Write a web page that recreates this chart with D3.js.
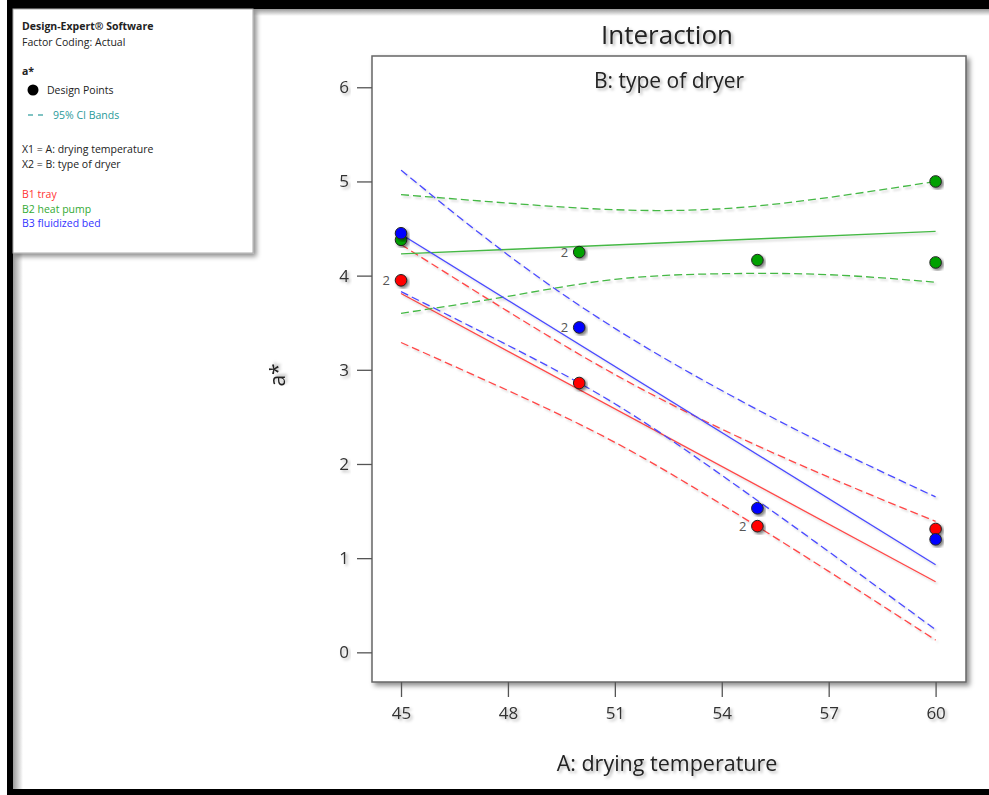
<!DOCTYPE html>
<html>
<head>
<meta charset="utf-8">
<script src="https://cdn.jsdelivr.net/npm/d3@7"></script>
<style>
  body { margin: 0; background: #fff; }
  svg { display: block; font-family: "Open Sans", "Noto Sans", sans-serif; }
</style>
</head>
<body>
<div class="chart-wrapper"></div>
<script>
// axis ticks
const xTicks = [45, 48, 51, 54, 57, 60];
const yTicks = [0, 1, 2, 3, 4, 5, 6];

// fitted lines (end points)
const fitX = [45, 60];
const trayFit = [3.81, 0.75];
const heatFit = [4.23, 4.47];
const bedFit = [4.44, 0.93];

// 95% CI bands read at the x ticks
const bandX = [45, 48, 51, 54, 57, 60];
const trayHi = [4.33, 3.62, 2.95, 2.37, 1.86, 1.39];
const trayLo = [3.29, 2.78, 2.23, 1.57, 0.86, 0.13];
const heatHi = [4.86, 4.77, 4.70, 4.71, 4.83, 5.00];
const heatLo = [3.60, 3.78, 3.96, 4.02, 4.01, 3.93];
const bedHi = [5.12, 4.22, 3.44, 2.78, 2.19, 1.65];
const bedLo = [3.83, 3.26, 2.64, 1.88, 1.07, 0.24];

// design points
const trayX = [45, 50, 55, 60];
const trayY = [3.95, 2.86, 1.34, 1.31];
const trayN = [2, 1, 2, 1];
const heatX = [45, 50, 55, 60, 60];
const heatY = [4.38, 4.25, 4.165, 5.0, 4.14];
const heatN = [1, 2, 1, 1, 1];
const bedX = [45, 50, 55, 60];
const bedY = [4.45, 3.45, 1.53, 1.2];
const bedN = [1, 2, 1, 1];

const series = [
    { name: "B1 tray", fit: trayFit, hi: trayHi, lo: trayLo, px: trayX, py: trayY, pn: trayN,
      line: "#ff4747", dot: "#ff0000", text: "#ff3333" },
    { name: "B2 heat pump", fit: heatFit, hi: heatHi, lo: heatLo, px: heatX, py: heatY, pn: heatN,
      line: "#45b845", dot: "#00a000", text: "#33aa33" },
    { name: "B3 fluidized bed", fit: bedFit, hi: bedHi, lo: bedLo, px: bedX, py: bedY, pn: bedN,
      line: "#4a4aff", dot: "#0000ff", text: "#3333ff" }
];

const W = 989, H = 795;
const frame = { left: 372, right: 966, top: 56, bottom: 682 };

const svg = d3.select(".chart-wrapper")
    .append("svg")
    .attr("width", W)
    .attr("height", H);

// filters for the soft shadows
const defs = svg.append("defs");
function shadow(id, dx, dy, sd, op) {
    defs.append("filter").attr("id", id)
        .attr("x", "-20%").attr("y", "-20%").attr("width", "140%").attr("height", "140%")
        .append("feDropShadow")
        .attr("dx", dx).attr("dy", dy).attr("stdDeviation", sd)
        .attr("flood-color", "#000").attr("flood-opacity", op);
}
shadow("sh-box", 3, 3, 2.5, 0.45);
shadow("sh-dot", 2, 2, 1.5, 0.5);
shadow("sh-line", 2, 2, 1.2, 0.18);
shadow("sh-text", 2, 2, 1.5, 0.3);

const gradTop = defs.append("linearGradient").attr("id", "g-top")
    .attr("x1", 0).attr("y1", 0).attr("x2", 0).attr("y2", 1);
gradTop.append("stop").attr("offset", 0).attr("stop-color", "#999");
gradTop.append("stop").attr("offset", 1).attr("stop-color", "#fff");
const gradLeft = defs.append("linearGradient").attr("id", "g-left")
    .attr("x1", 0).attr("y1", 0).attr("x2", 1).attr("y2", 0);
gradLeft.append("stop").attr("offset", 0).attr("stop-color", "#999");
gradLeft.append("stop").attr("offset", 1).attr("stop-color", "#fff");

// window border
svg.append("rect").attr("x", 0).attr("y", 0).attr("width", W).attr("height", H).attr("fill", "#fff");
svg.append("rect").attr("x", 13).attr("y", 9).attr("width", W - 13).attr("height", 7).attr("fill", "url(#g-top)");
svg.append("rect").attr("x", 13).attr("y", 9).attr("width", 10).attr("height", H - 15).attr("fill", "url(#g-left)");
svg.append("rect").attr("x", 7).attr("y", 0).attr("width", W - 7).attr("height", 9).attr("fill", "#000");
svg.append("rect").attr("x", 7).attr("y", 0).attr("width", 6).attr("height", H).attr("fill", "#000");
svg.append("rect").attr("x", 7).attr("y", 789).attr("width", W - 7).attr("height", 6).attr("fill", "#000");

// legend panel
svg.append("rect")
    .attr("x", 13).attr("y", 9).attr("width", 240).attr("height", 244)
    .attr("fill", "#fff").attr("stroke", "#aaa").attr("stroke-width", 1)
    .attr("filter", "url(#sh-box)");

const legend = svg.append("g").style("font-size", "10.5px").attr("fill", "#222");
legend.append("text").attr("x", 22).attr("y", 30).style("font-weight", "bold").text("Design-Expert® Software");
legend.append("text").attr("x", 22).attr("y", 45.5).text("Factor Coding: Actual");
legend.append("text").attr("x", 22).attr("y", 74.5).style("font-weight", "bold").text("a*");
legend.append("circle").attr("cx", 33).attr("cy", 90).attr("r", 5.5).attr("fill", "#000");
legend.append("text").attr("x", 47).attr("y", 94).text("Design Points");
legend.append("line").attr("x1", 28).attr("x2", 33).attr("y1", 115).attr("y2", 115)
    .attr("stroke", "#2a9a9a").attr("stroke-width", 1.2);
legend.append("line").attr("x1", 38).attr("x2", 43).attr("y1", 115).attr("y2", 115)
    .attr("stroke", "#2a9a9a").attr("stroke-width", 1.2);
legend.append("text").attr("x", 53).attr("y", 119).attr("fill", "#2a9a9a").text("95% CI Bands");
legend.append("text").attr("x", 22).attr("y", 153).text("X1 = A: drying temperature");
legend.append("text").attr("x", 22).attr("y", 168).text("X2 = B: type of dryer");
legend.selectAll(".leg-series")
    .data(series)
    .enter()
    .append("text")
    .attr("x", 22)
    .attr("y", (d, i) => 198 + i * 14.5)
    .attr("fill", d => d.text)
    .text(d => d.name);

// scales
const xScale = d3.scaleLinear().domain([44.186, 60.853]).range([frame.left, frame.right]);
const yScale = d3.scaleLinear().domain([-0.315, 6.332]).range([frame.bottom, frame.top]);

// plot frame
svg.append("rect")
    .attr("x", frame.left).attr("y", frame.top)
    .attr("width", frame.right - frame.left).attr("height", frame.bottom - frame.top)
    .attr("fill", "#fff").attr("stroke", "#666").attr("stroke-width", 1.5)
    .attr("filter", "url(#sh-box)");

// axes
const xAxis = d3.axisBottom(xScale).tickValues(xTicks).tickSize(15).tickPadding(10).tickSizeOuter(0);
const yAxis = d3.axisLeft(yScale).tickValues(yTicks).tickFormat(d3.format("d"))
    .tickSize(15).tickPadding(8).tickSizeOuter(0);

const gx = svg.append("g").attr("transform", `translate(0,${frame.bottom})`).call(xAxis);
const gy = svg.append("g").attr("transform", `translate(${frame.left},0)`).call(yAxis);
[gx, gy].forEach(g => {
    g.select(".domain").remove();
    g.selectAll(".tick line").attr("stroke", "#555").attr("stroke-width", 1.3);
    g.selectAll(".tick text")
        .attr("fill", "#333")
        .style("font-size", "17px")
        .style("font-family", "'Open Sans', sans-serif")
        .attr("filter", "url(#sh-text)");
});
gx.selectAll(".tick text").attr("dy", "0.71em");

// titles
svg.append("text")
    .attr("x", (frame.left + frame.right) / 2 - 2).attr("y", 44)
    .attr("text-anchor", "middle").style("font-size", "26px").attr("fill", "#222")
    .attr("filter", "url(#sh-text)")
    .text("Interaction");
svg.append("text")
    .attr("x", (frame.left + frame.right) / 2).attr("y", 88)
    .attr("text-anchor", "middle").style("font-size", "21px").attr("fill", "#222")
    .attr("filter", "url(#sh-text)")
    .text("B: type of dryer");
svg.append("text")
    .attr("x", (frame.left + frame.right) / 2 - 2).attr("y", 771)
    .attr("text-anchor", "middle").style("font-size", "21.5px").attr("fill", "#222")
    .attr("filter", "url(#sh-text)")
    .text("A: drying temperature");
svg.append("text")
    .attr("transform", `translate(285,${(frame.top + frame.bottom) / 2 + 6}) rotate(-90)`)
    .attr("text-anchor", "middle").style("font-size", "21px").attr("fill", "#222")
    .attr("filter", "url(#sh-text)")
    .text("a*");

// lines
const plot = svg.append("g");
const fitLine = d3.line().x((d, i) => xScale(fitX[i])).y(d => yScale(d));
const bandLine = d3.line().x((d, i) => xScale(bandX[i])).y(d => yScale(d)).curve(d3.curveNatural);

series.forEach(s => {
    [s.hi, s.lo].forEach(band => {
        plot.append("path")
            .datum(band)
            .attr("d", bandLine)
            .attr("fill", "none")
            .attr("stroke", s.line)
            .attr("stroke-width", 1.3)
            .attr("stroke-dasharray", "8 4")
            .attr("filter", "url(#sh-line)");
    });
    plot.append("path")
        .datum(s.fit)
        .attr("d", fitLine)
        .attr("fill", "none")
        .attr("stroke", s.line)
        .attr("stroke-width", 1.3)
        .attr("filter", "url(#sh-line)");
});

// design points
series.forEach(s => {
    const pts = s.px.map((x, i) => ({ x: x, y: s.py[i], n: s.pn[i] }));
    plot.selectAll(null)
        .data(pts)
        .enter()
        .append("circle")
        .attr("cx", d => xScale(d.x))
        .attr("cy", d => yScale(d.y))
        .attr("r", 5.8)
        .attr("fill", s.dot)
        .attr("stroke", "#222")
        .attr("stroke-width", 1)
        .attr("filter", "url(#sh-dot)");
    plot.selectAll(null)
        .data(pts.filter(d => d.n > 1))
        .enter()
        .append("text")
        .attr("x", d => xScale(d.x) - 11)
        .attr("y", d => yScale(d.y) + 5)
        .attr("text-anchor", "end")
        .style("font-size", "13px")
        .attr("fill", "#555")
        .text(d => d.n);
});
</script>
</body>
</html>
